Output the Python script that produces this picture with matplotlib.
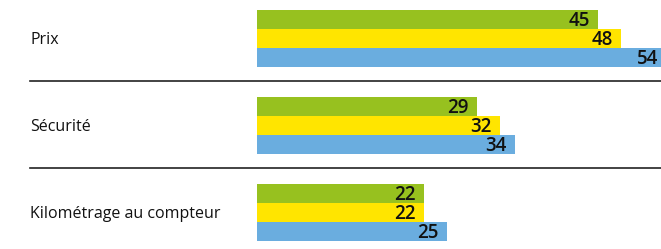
import matplotlib
matplotlib.use("Agg")
import matplotlib.pyplot as plt
import matplotlib.transforms as mtransforms

categories = ["Prix", "Sécurité", "Kilométrage au compteur"]
series_a = [45, 29, 22]
series_b = [48, 32, 22]
series_c = [54, 34, 25]
series = [series_a, series_b, series_c]
colors = ["#97c11f", "#ffe500", "#6aaddf"]

W, H, DPI = 661, 249, 100
fig = plt.figure(figsize=(W / DPI, H / DPI), dpi=DPI)
ax = fig.add_axes([0, 0, 1, 1])
ax.set_axis_off()

px_per_unit = 7.58
bar_x0_px = 257
ax.set_xlim(-bar_x0_px / px_per_unit, (W - bar_x0_px) / px_per_unit)
pitch_px = 87.0
top_center_px = 38.5
ax.set_ylim((H - top_center_px) / pitch_px, -top_center_px / pitch_px)

bar_h = 19.0 / pitch_px
for j, (vals, col) in enumerate(zip(series, colors)):
    for i, v in enumerate(vals):
        yc = i + (j - 1) * bar_h
        ax.barh(yc, v, height=bar_h, left=0, color=col, edgecolor="none")
        ax.annotate(str(v), xy=(v, yc), xytext=(-8, -1.5), textcoords="offset pixels",
                    ha="right", va="center", fontsize=13.5, color="#111111",
                    family="Open Sans", fontweight="semibold", annotation_clip=False)

blend = mtransforms.blended_transform_factory(fig.transFigure, ax.transData)
label_tr = mtransforms.offset_copy(blend, fig=fig, x=0, y=-1.5, units="dots")
for i, cat in enumerate(categories):
    ax.text(30 / W, i, cat, transform=label_tr, ha="left", va="center",
            fontsize=11.5, color="#111111", family="Open Sans")
    if i < len(categories) - 1:
        ysep = i + 0.49
        ax.plot([30 / W, 1], [ysep, ysep], transform=blend, color="#222222",
                lw=1.2, clip_on=False)

fig.savefig("out.png", dpi=DPI)
